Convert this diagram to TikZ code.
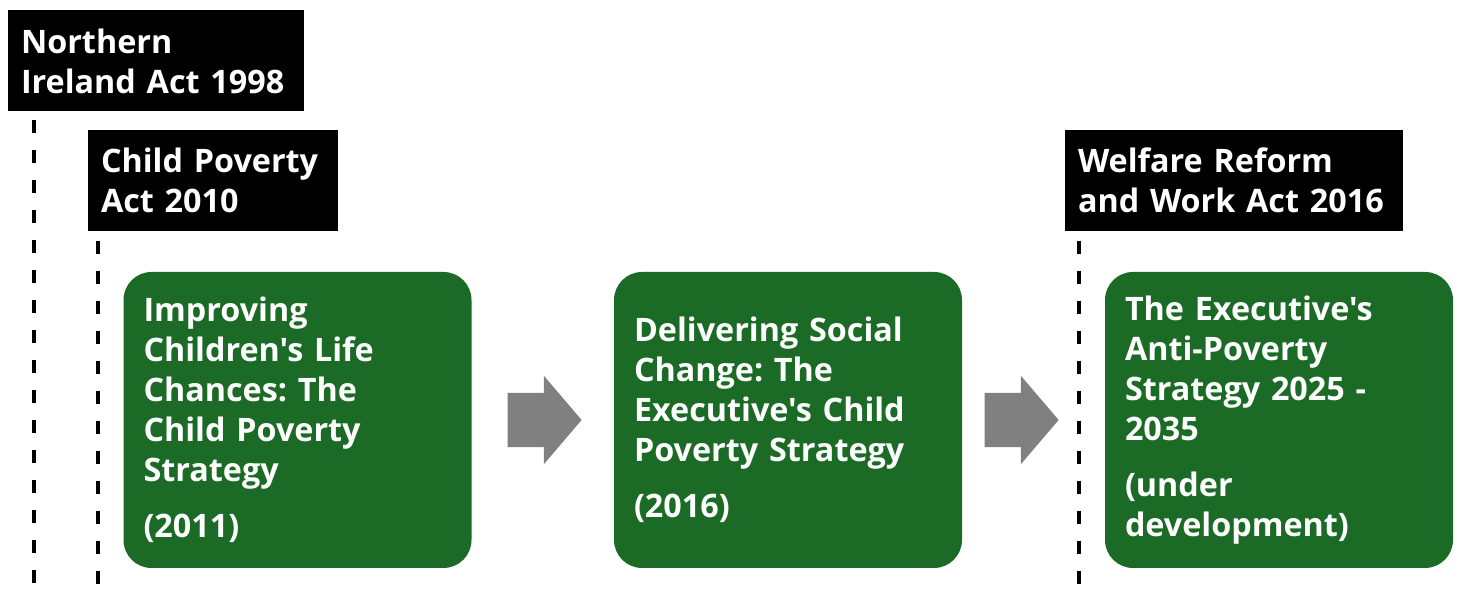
\documentclass[tikz,border=0pt]{standalone}
\usepackage{fontspec}
\setmainfont{Open Sans}[Ligatures=TeXOff]
\usetikzlibrary{shapes.arrows, calc}
\definecolor{stratgreen}{RGB}{27,107,39}
\definecolor{arrowgray}{RGB}{128,128,128}
\newcommand{\actfont}{\fontsize{9.2pt}{11.4pt}\selectfont\bfseries}
\frenchspacing

\begin{document}
\begin{tikzpicture}
    \tikzstyle{act} = [rectangle, fill=black, text=white, font=\actfont, align=left, inner xsep=0.13cm, inner ysep=0pt, minimum height=1.01cm]
    \tikzstyle{strategy} = [rectangle, rounded corners=0.28cm, fill=stratgreen, text=white, font=\actfont, align=left, inner xsep=0.2cm, inner ysep=0pt, text width=3.08cm, minimum height=2.96cm]
    \tikzstyle{timeline} = [line width=0.04cm, dash pattern=on 0.13cm off 0.17cm]
    \tikzstyle{next} = [single arrow, fill=arrowgray, inner xsep=0pt, inner ysep=0.265cm, minimum height=0.74cm, single arrow head extend=0.17cm, single arrow tip angle=99]

    \useasboundingbox (0,0) rectangle (14.7,5.96);

    % legislation
    \node[act, text width=2.70cm] (act98) at (1.56,5.35) {Northern\\Ireland Act 1998};
    \node[act, text width=2.24cm] (act10) at (2.13,4.155) {Child Poverty\\Act 2010};
    \node[act, text width=3.12cm] (act16) at (12.34,4.155) {Welfare Reform\\and Work Act 2016};

    % strategies
    \node[strategy] (strat11) at (2.975,1.76) {Improving\\Children's Life\\Chances: The\\Child Poverty\\Strategy\\[0.16cm](2011)};
    \node[strategy] (strat16) at (7.88,1.76) {Delivering Social\\Change: The\\Executive's Child\\Poverty Strategy\\[0.16cm](2016)};
    \node[strategy] (strat25) at (12.79,1.76) {The Executive's\\Anti-Poverty\\Strategy 2025 -\\2035\\[0.16cm](under\\development)};

    \node[next] (next1) at (5.33,1.76) {};
    \node[next] (next2) at (10.10,1.76) {};

    % timelines
    \coordinate (base98) at (0.34,0.10);
    \coordinate (base10) at (0.98,0.10);
    \coordinate (base16) at (10.79,0.10);
    \draw[timeline] ($(base98 |- act98.south)+(0,-0.08)$) -- (base98);
    \draw[timeline] ($(base10 |- act10.south)+(0,-0.09)$) -- (base10);
    \draw[timeline] ($(base16 |- act16.south)+(0,-0.09)$) -- (base16);
\end{tikzpicture}
\end{document}
